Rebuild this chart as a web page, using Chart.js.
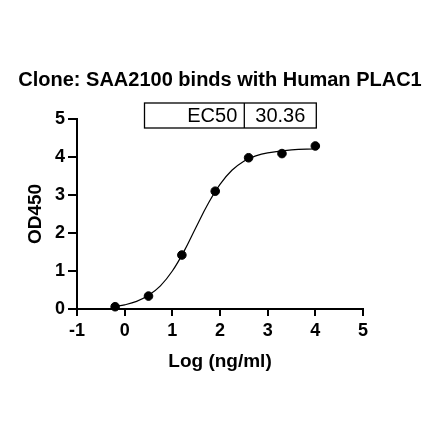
<!DOCTYPE html>
<html>
<head>
<meta charset="utf-8">
<script src="https://cdn.jsdelivr.net/npm/chart.js@4/dist/chart.umd.min.js"></script>
<style>
  html, body { margin: 0; padding: 0; background: #fff; overflow: hidden; }
  #wrap { position: relative; width: 440px; height: 441px; }
</style>
</head>
<body>
<div id="wrap"><canvas id="myChart"></canvas></div>
<script>
// measured points (log conc, OD450)
var logConc = [-0.2, 0.5, 1.2, 1.9, 2.6, 3.3, 4.0];
var od450 = [0.06, 0.34, 1.42, 3.1, 3.98, 4.09, 4.29];

// fitted curve
var curveX = [-0.2, 0, 0.25, 0.5, 0.75, 1.0, 1.25, 1.5, 1.75, 2.0, 2.25, 2.5, 2.75, 3.0, 3.5, 4.0];
var curveY = [0.07, 0.11, 0.2, 0.36, 0.61, 1.0, 1.53, 2.16, 2.77, 3.28, 3.65, 3.89, 4.03, 4.11, 4.19, 4.21];

var xRange = [-1, 5];
var yRange = [0, 5];

var ec50Label = 'EC50';
var ec50Value = '30.36';

var FONT = "'Liberation Sans', Arial, sans-serif";

function toPoints(xs, ys) {
    var out = [];
    for (var i = 0; i < xs.length; i++) out.push({x: xs[i], y: ys[i]});
    return out;
}

// little EC50 table above the plot
var ec50Box = {
    id: 'ec50Box',
    afterDraw: function(chart) {
        var ctx = chart.ctx;
        var ca = chart.chartArea;
        var left = ca.left + 67.5, mid = ca.left + 167.3, right = ca.left + 239.3;
        var top = ca.top - 16, h = 25;
        ctx.save();
        ctx.strokeStyle = '#000';
        ctx.lineWidth = 1.3;
        ctx.strokeRect(left, top, right - left, h);
        ctx.beginPath();
        ctx.moveTo(mid, top);
        ctx.lineTo(mid, top + h);
        ctx.stroke();
        ctx.fillStyle = '#000';
        ctx.font = '20px ' + FONT;
        ctx.textBaseline = 'middle';
        ctx.textAlign = 'right';
        ctx.fillText(ec50Label, mid - 7, top + h / 2 + 1);
        ctx.textAlign = 'center';
        ctx.fillText(ec50Value, (mid + right) / 2, top + h / 2 + 1);
        ctx.restore();
    }
};

Chart.defaults.font.family = FONT;

var ctx = document.getElementById('myChart').getContext('2d');
var myChart = new Chart(ctx, {
    type: 'scatter',
    data: {
        datasets: [{
            label: 'fit',
            data: toPoints(curveX, curveY),
            showLine: true,
            borderColor: '#000',
            borderWidth: 1.2,
            pointRadius: 0,
            tension: 0.4,
            clip: false
        }, {
            label: 'OD450',
            data: toPoints(logConc, od450),
            backgroundColor: '#000',
            borderColor: '#000',
            pointRadius: 4.3,
            clip: false
        }]
    },
    options: {
        responsive: true,
        maintainAspectRatio: false,
        animation: false,
        plugins: {
            legend: {display: false},
            tooltip: {enabled: false},
            title: {
                display: true,
                text: 'Clone: SAA2100 binds with Human PLAC1',
                color: '#000',
                font: {size: 20, weight: 'bold'},
                padding: {top: 68, bottom: 27}
            }
        },
        scales: {
            x: {
                type: 'linear',
                min: xRange[0],
                max: xRange[1],
                afterFit: function(scale) { scale.height = 132; },
                grid: {drawOnChartArea: false, tickLength: 7, color: '#000', lineWidth: 2},
                border: {color: '#000', width: 2},
                ticks: {stepSize: 1, padding: 4, maxRotation: 0, color: '#000', font: {size: 18, weight: 'bold'}},
                title: {
                    display: true,
                    text: 'Log (ng/ml)',
                    color: '#000',
                    font: {size: 19, weight: 'bold'},
                    padding: {top: 0, bottom: 68}
                }
            },
            y: {
                type: 'linear',
                min: yRange[0],
                max: yRange[1],
                afterFit: function(scale) { scale.width = 77; },
                grid: {drawOnChartArea: false, tickLength: 9, color: '#000', lineWidth: 2},
                border: {color: '#000', width: 2},
                ticks: {stepSize: 1, padding: 3, color: '#000', font: {size: 18, weight: 'bold'}},
                title: {
                    display: true,
                    text: 'OD450',
                    color: '#000',
                    font: {size: 19, weight: 'bold'},
                    padding: {top: 24, bottom: 0}
                }
            },
            // empty right-hand axis, only there to keep the plot 77px off the right edge
            yRight: {
                position: 'right',
                min: yRange[0],
                max: yRange[1],
                afterFit: function(scale) { scale.width = 77; },
                grid: {display: false},
                border: {display: false},
                ticks: {display: false}
            }
        }
    },
    plugins: [ec50Box]
});
</script>
</body>
</html>
